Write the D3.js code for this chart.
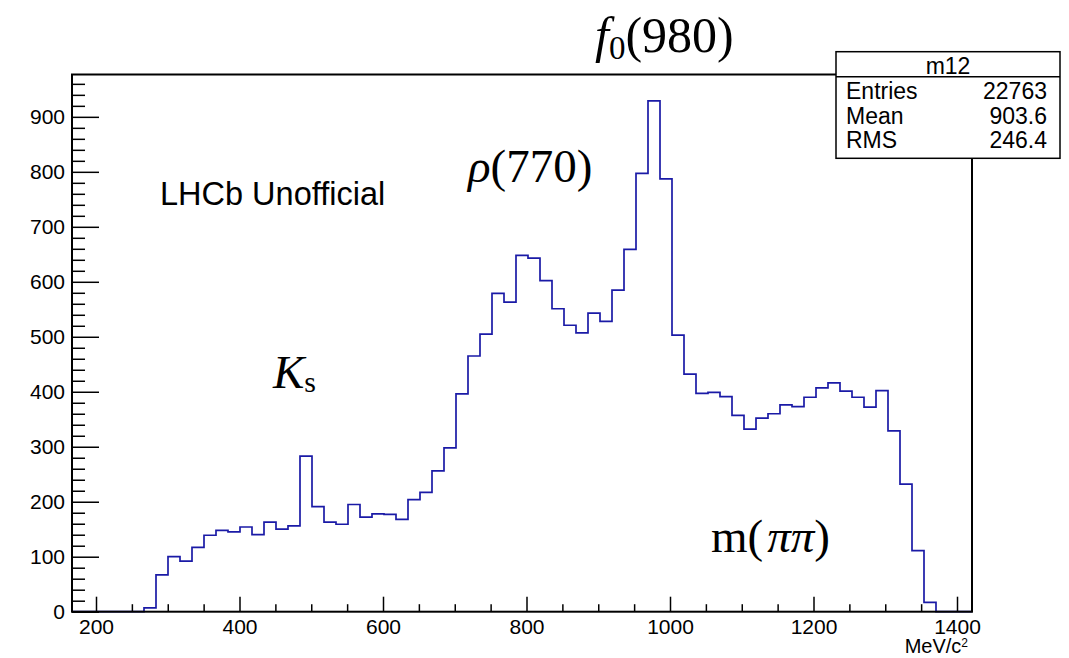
<!DOCTYPE html>
<html>
<head>
<meta charset="utf-8">
<script src="https://cdn.jsdelivr.net/npm/d3@7"></script>
<style>
  body { margin: 0; background: #fff; }
  text { font-family: "Liberation Sans", Arial, Helvetica, sans-serif; }
  .tex { font-family: "Liberation Serif", "Times New Roman", serif; }
</style>
</head>
<body>
<script>
// histogram m12 : 75 bins
var xMin = 166.55;
var xMax = 1420.9;
var counts = [
  0, 0, 0, 0, 0, 0, 7, 67, 100, 92,
  117, 139, 148, 145, 154, 140, 163, 150, 156, 283,
  191, 163, 159, 195, 172, 178, 177, 168, 204, 217,
  256, 298, 396, 465, 505, 579, 563, 648, 643, 602,
  551, 521, 507, 543, 528, 585, 659, 797, 929, 787,
  503, 432, 397, 399, 391, 357, 332, 352, 360, 376,
  373, 390, 407, 416, 401, 390, 372, 402, 329, 232,
  111, 17, 0, 0, 0
];
var xMajor = [200, 400, 600, 800, 1000, 1200, 1400];
var yMajor = [0, 100, 200, 300, 400, 500, 600, 700, 800, 900];
var statNames = ['Entries', 'Mean', 'RMS'];
var statValues = ['22763', '903.6', '246.4'];
var histName = 'm12';

var w = 1069;
var h = 658;
// frame edges (note: "top" is taken by window.top)
var fLeft = 72, fRight = 972, fTop = 74.5, fBottom = 611.7;

var svg = d3.select('body').append('svg')
  .attr('width', w)
  .attr('height', h);

svg.append('rect').attr('width', w).attr('height', h).attr('fill', '#fff');

var x = d3.scaleLinear().domain([xMin, xMax]).range([fLeft, fRight]);
var y = d3.scaleLinear().domain([0, 977]).range([fBottom, fTop]);

// bin edges from the range
var binW = (xMax - xMin) / counts.length;
var pts = counts.map(function(c, i) { return [xMin + i * binW, c]; });
pts.push([xMax, counts[counts.length - 1]]);

var line = d3.line()
  .x(function(d) { return x(d[0]); })
  .y(function(d) { return y(d[1]); })
  .curve(d3.curveStepAfter);

svg.append('path')
  .datum(pts)
  .attr('d', line)
  .attr('fill', 'none')
  .attr('stroke', '#1a1aa6')
  .attr('stroke-width', 1.7);

// minor ticks
var xMinor = d3.range(200, 1401, 50).filter(function(v) { return v % 200 !== 0; });
var yMinor = d3.range(0, 961, 20).filter(function(v) { return v % 100 !== 0; });

svg.append('g')
  .attr('transform', 'translate(0,' + fBottom + ')')
  .call(d3.axisBottom(x).tickValues(xMinor).tickSize(-7.5).tickFormat(''))
  .call(function(g) { g.select('.domain').remove(); });

svg.append('g')
  .attr('transform', 'translate(' + fLeft + ',0)')
  .call(d3.axisLeft(y).tickValues(yMinor).tickSize(-13).tickFormat(''))
  .call(function(g) { g.select('.domain').remove(); });

// major ticks + labels
var xAxis = svg.append('g')
  .attr('transform', 'translate(0,' + fBottom + ')')
  .call(d3.axisBottom(x).tickValues(xMajor).tickSize(-15).tickPadding(7)
    .tickSizeOuter(0).tickFormat(d3.format('d')));
xAxis.select('.domain').remove();

var yAxis = svg.append('g')
  .attr('transform', 'translate(' + fLeft + ',0)')
  .call(d3.axisLeft(y).tickValues(yMajor).tickSize(-27).tickPadding(7)
    .tickSizeOuter(0).tickFormat(d3.format('d')));
yAxis.select('.domain').remove();

svg.selectAll('.tick line').attr('stroke', '#000').attr('stroke-width', 1.5);
svg.selectAll('.tick text')
  .attr('fill', '#000')
  .style('font-family', '"Liberation Sans", Arial, sans-serif')
  .style('font-size', '21px');

// frame
svg.append('rect')
  .attr('x', fLeft).attr('y', fTop)
  .attr('width', fRight - fLeft).attr('height', fBottom - fTop)
  .attr('fill', 'none')
  .attr('stroke', '#000')
  .attr('stroke-width', 2);

// axis title
var xt = svg.append('text')
  .attr('x', 968).attr('y', 653)
  .attr('text-anchor', 'end')
  .style('font-size', '20px');
xt.append('tspan').text('MeV/c');
xt.append('tspan').attr('dy', -6).style('font-size', '12px').text('2');

// stats box
var bx = 836, by = 51.7, bw = 224, bh = 106.6;
svg.append('rect')
  .attr('x', bx).attr('y', by).attr('width', bw).attr('height', bh)
  .attr('fill', '#fff').attr('stroke', '#000').attr('stroke-width', 1.5);
svg.append('line')
  .attr('x1', bx).attr('x2', bx + bw).attr('y1', 76.7).attr('y2', 76.7)
  .attr('stroke', '#000').attr('stroke-width', 1.5);
svg.append('text')
  .attr('x', bx + bw / 2).attr('y', 74)
  .attr('text-anchor', 'middle')
  .style('font-size', '23px')
  .text(histName);

var rowY = [99.3, 123.5, 148.3];
statNames.forEach(function(n, i) {
  svg.append('text').attr('x', 846).attr('y', rowY[i]).style('font-size', '23px').text(n);
  svg.append('text').attr('x', 1047).attr('y', rowY[i]).attr('text-anchor', 'end')
    .style('font-size', '23px').text(statValues[i]);
});

// annotations
svg.append('text')
  .attr('x', 160).attr('y', 205)
  .style('font-size', '32.5px')
  .text('LHCb Unofficial');

var f0 = svg.append('text').attr('class', 'tex').attr('x', 595).attr('y', 52).style('font-size', '50px');
f0.append('tspan').style('font-style', 'italic').text('f');
f0.append('tspan').attr('dy', 7).style('font-size', '33px').text('0');
f0.append('tspan').attr('dy', -7).text('(980)');

var rho = svg.append('text').attr('class', 'tex').attr('x', 468).attr('y', 182).style('font-size', '47px');
rho.append('tspan').style('font-style', 'italic').text('ρ');
rho.append('tspan').text('(770)');

var ks = svg.append('text').attr('class', 'tex').attr('x', 273).attr('y', 388).style('font-size', '47px');
ks.append('tspan').style('font-style', 'italic').text('K');
ks.append('tspan').attr('dy', 4).style('font-size', '30px').text('s');

var mpp = svg.append('text').attr('class', 'tex').attr('x', 711).attr('y', 552).style('font-size', '47px');
mpp.append('tspan').text('m(');
mpp.append('tspan').attr('dx', 4).style('font-style', 'italic').text('ππ');
mpp.append('tspan').text(')');
</script>
</body>
</html>
